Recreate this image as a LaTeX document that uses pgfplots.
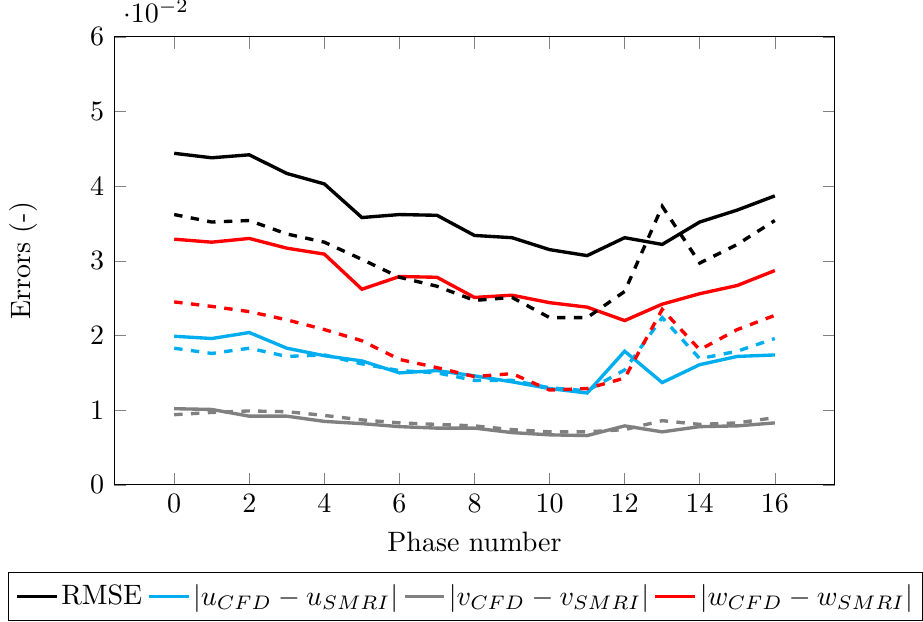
\documentclass[border=0pt]{standalone}
\usepackage{pgfplots}
\pgfplotsset{compat=1.18}
\definecolor{myblue}{RGB}{0,174,239}
\begin{document}
\begin{tikzpicture}
\begin{axis}[
  scale only axis,
  width=9.04cm, height=5.62cm,
  xmin=-1.6, xmax=17.6,
  ymin=0, ymax=0.06,
  xtick={0,2,...,16},
  ytick={0,0.01,0.02,0.03,0.04,0.05,0.06},
  scaled y ticks=base 10:2,
  tick style={gray},
  xlabel={Phase number},
  ylabel={Errors (-)},
  ylabel style={yshift=12pt},
  legend columns=4,
  legend image code/.code={\draw[#1] (0cm,0cm) -- (0.5cm,0cm);},
  legend style={at={(0.4875,-0.195)}, anchor=north, inner xsep=2.4pt, nodes={inner xsep=1pt}, /tikz/every even column/.append style={column sep=0.7pt}},
  every axis plot/.append style={very thick},
]
\addplot[black] coordinates {(0,0.0444)(1,0.0438)(2,0.0442)(3,0.0417)(4,0.0403)(5,0.0358)(6,0.0362)(7,0.0361)(8,0.0334)(9,0.0331)(10,0.0315)(11,0.0307)(12,0.0331)(13,0.0322)(14,0.0352)(15,0.0368)(16,0.0387)};
\addlegendentry{RMSE}
\addplot[myblue] coordinates {(0,0.0199)(1,0.0196)(2,0.0204)(3,0.0183)(4,0.0173)(5,0.0166)(6,0.0150)(7,0.0153)(8,0.0146)(9,0.0138)(10,0.0129)(11,0.0123)(12,0.0179)(13,0.0137)(14,0.0161)(15,0.0172)(16,0.0174)};
\addlegendentry{$|u_{CFD}-u_{SMRI}|$}
\addplot[gray] coordinates {(0,0.0102)(1,0.0101)(2,0.0092)(3,0.0092)(4,0.0085)(5,0.0082)(6,0.0078)(7,0.0076)(8,0.0076)(9,0.0070)(10,0.0067)(11,0.0066)(12,0.0079)(13,0.0071)(14,0.0078)(15,0.0079)(16,0.0083)};
\addlegendentry{$|v_{CFD}-v_{SMRI}|$}
\addplot[red] coordinates {(0,0.0329)(1,0.0325)(2,0.0330)(3,0.0317)(4,0.0309)(5,0.0262)(6,0.0279)(7,0.0278)(8,0.0251)(9,0.0254)(10,0.0244)(11,0.0238)(12,0.0220)(13,0.0242)(14,0.0256)(15,0.0267)(16,0.0287)};
\addlegendentry{$|w_{CFD}-w_{SMRI}|$}
\addplot[black, dashed, forget plot] coordinates {(0,0.0362)(1,0.0352)(2,0.0354)(3,0.0336)(4,0.0325)(5,0.0302)(6,0.0278)(7,0.0266)(8,0.0247)(9,0.0251)(10,0.0224)(11,0.0224)(12,0.0259)(13,0.0373)(14,0.0297)(15,0.0322)(16,0.0354)};
\addplot[myblue, dashed, forget plot] coordinates {(0,0.0183)(1,0.0176)(2,0.0183)(3,0.0172)(4,0.0174)(5,0.0162)(6,0.0153)(7,0.0150)(8,0.0140)(9,0.0140)(10,0.0130)(11,0.0126)(12,0.0154)(13,0.0224)(14,0.0169)(15,0.0179)(16,0.0196)};
\addplot[gray, dashed, forget plot] coordinates {(0,0.0094)(1,0.0097)(2,0.0099)(3,0.0098)(4,0.0093)(5,0.0087)(6,0.0083)(7,0.0081)(8,0.0079)(9,0.0074)(10,0.0071)(11,0.0071)(12,0.0074)(13,0.0086)(14,0.0081)(15,0.0083)(16,0.0090)};
\addplot[red, dashed, forget plot] coordinates {(0,0.0245)(1,0.0239)(2,0.0232)(3,0.0221)(4,0.0208)(5,0.0193)(6,0.0168)(7,0.0157)(8,0.0145)(9,0.0149)(10,0.0127)(11,0.0129)(12,0.0143)(13,0.0235)(14,0.0181)(15,0.0208)(16,0.0227)};
\end{axis}
\end{tikzpicture}
\end{document}
